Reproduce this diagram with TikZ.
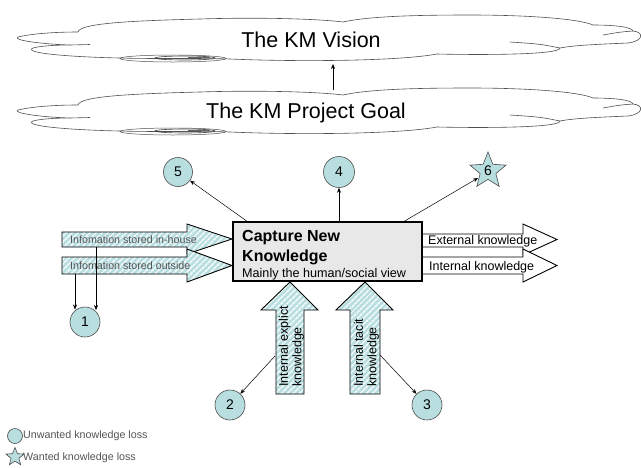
\documentclass[tikz,border=0pt]{standalone}
\usepackage{fontspec}
\setmainfont{Liberation Sans}
\usetikzlibrary{shapes.geometric,arrows.meta,patterns.meta}
\definecolor{kmblue}{RGB}{184,222,224}
\definecolor{kmgray}{RGB}{85,85,85}
\definecolor{cloudline}{RGB}{80,80,80}
\definecolor{boxgray}{RGB}{232,232,232}
\tikzset{
  pics/kmcloud/.style={code={
    \draw[cloudline, line width=0.6pt, fill=white]
      (18,-37) .. controls (35,-33) and (60,-32) .. (78,-32)
      .. controls (80,-24) and (120,-21) .. (200,-19)
      .. controls (260,-17) and (320,-19) .. (343,-22)
      .. controls (370,-16) and (420,-15) .. (470,-15)
      .. controls (530,-15) and (580,-19) .. (593,-25)
      .. controls (615,-25) and (632,-27) .. (633,-31)
      .. controls (644,-32) and (644,-41) .. (628,-43)
      .. controls (605,-44) and (575,-45) .. (560,-48)
      .. controls (560,-55) and (480,-55) .. (437,-54)
      .. controls (400,-61) and (300,-62) .. (230,-59)
      .. controls (200,-58) and (150,-59) .. (120,-58)
      .. controls (70,-57) and (22,-53) .. (33,-48)
      .. controls (40,-46) and (55,-45) .. (70,-45)
      .. controls (40,-44) and (12,-40) .. cycle;
    \draw[cloudline, line width=0.6pt] (70,-45) -- (90,-44.5);
    \draw[cloudline, line width=0.6pt] (560,-48) .. controls (540,-44) .. (510,-42);
    \draw[cloudline, line width=0.6pt] (633,-31) .. controls (620,-32) .. (603,-35);
    \draw[cloudline, line width=0.5pt] (173,-58.5) ellipse [x radius=53pt, y radius=3.5pt];
    \draw[black!75, line width=0.6pt] (185,-58) ellipse [x radius=30pt, y radius=2pt];
    \draw[black!60, line width=0.8pt] (188,-57.5) -- (210,-57.5);
  }},
  hatched/.style={draw=black, line width=0.9pt,
    preaction={fill=kmblue},
    preaction={pattern={Lines[angle=45,distance=4pt,line width=1.6pt]}, pattern color=white}},
  whitearrow/.style={draw=black, line width=0.9pt, fill=white},
  lossc/.style={circle, draw=black!70, line width=0.6pt, fill=kmblue, inner sep=0pt,
    minimum size=30pt, font=\fontsize{14}{16}\selectfont},
  lossstar/.style={star, star points=5, star point ratio=2.3, draw=black!70, line width=0.6pt,
    fill=kmblue, inner sep=0pt, minimum size=38pt, font=\fontsize{14}{16}\selectfont},
  conn/.style={-{Stealth[length=5pt,width=4pt]}, line width=0.5pt},
  cloudtext/.style={font=\fontsize{21.5}{26}\selectfont, inner sep=0pt},
  smallgray/.style={font=\fontsize{10.7}{12}\selectfont, text=kmgray, inner sep=0pt},
  arrowtext/.style={font=\fontsize{12.5}{13.5}\selectfont, inner sep=0pt},
}
\begin{document}
\begin{tikzpicture}[x=1pt,y=1pt]
\useasboundingbox[fill=white] (0,0) rectangle (641,-467);

% clouds
\pic at (0,0) {kmcloud};
\pic at (0,-73) {kmcloud};
\node[cloudtext] (vision) at (311,-40) {The KM Vision};
\node[cloudtext] (goal) at (306,-113) {The KM Project Goal};
\coordinate (gtop) at (333,-90);
\coordinate (vbot) at (333,-64);
\draw[conn] (gtop) -- (vbot);

% left hatched arrows
\draw[hatched] (62,-232) -- (187,-232) -- (187,-224) -- (232,-239) -- (187,-254) -- (187,-247) -- (62,-247) -- cycle;
\draw[hatched] (62,-257) -- (187,-257) -- (187,-249) -- (232,-265.5) -- (187,-282) -- (187,-274) -- (62,-274) -- cycle;
\node[smallgray, anchor=base west] (inhouse) at (70,-243.3) {Infomation stored in-house};
\node[smallgray, anchor=base west] (outside) at (70,-269.3) {Infomation stored outside};

% right white arrows
\draw[whitearrow] (422,-234) -- (523,-234) -- (523,-224) -- (557,-239.5) -- (523,-255) -- (523,-247) -- (422,-247) -- cycle;
\draw[whitearrow] (422,-257) -- (523,-257) -- (523,-249) -- (557,-265.5) -- (523,-282) -- (523,-274) -- (422,-274) -- cycle;
\node[arrowtext, anchor=base west] (ext) at (428,-244.5) {External knowledge};
\node[arrowtext, anchor=base west] (int) at (429,-270.5) {Internal knowledge};

% bottom hatched up arrows
\draw[hatched] (276,-394) -- (276,-310) -- (261,-310) -- (290,-282) -- (318,-310) -- (304,-310) -- (304,-394) -- cycle;
\draw[hatched] (350,-394) -- (350,-310) -- (336,-310) -- (365,-282) -- (393,-310) -- (380,-310) -- (380,-394) -- cycle;
\node[arrowtext, rotate=90, anchor=west, align=left] (explicit) at (291.5,-387) {Internal explict\\knowledge};
\node[arrowtext, rotate=90, anchor=west, align=left] (tacit) at (366.5,-387) {Internal tacit\\knowledge};

% main box
\node[draw=black, line width=1.4pt, fill=boxgray, minimum width=189pt, minimum height=59pt, inner sep=0pt] (box) at (327.5,-251.5) {};
\node[font=\fontsize{16}{18}\selectfont\bfseries, anchor=base west, inner sep=0pt] (cap1) at (242,-241) {Capture New};
\node[font=\fontsize{16}{18}\selectfont\bfseries, anchor=base west, inner sep=0pt] (cap2) at (242,-261) {Knowledge};
\node[font=\fontsize{12.6}{14}\selectfont, anchor=base west, inner sep=0pt] (cap3) at (242,-277) {Mainly the human/social view};

% loss markers
\node[lossc, minimum size=29pt] (c5) at (178,-172) {5};
\node[lossc, minimum size=31pt] (c4) at (339,-172) {4};
\node[lossstar] (s6) at (488,-171) {6};
\node[lossc] (c1) at (85,-322) {1};
\node[lossc] (c2) at (230,-405) {2};
\node[lossc] (c3) at (427,-405) {3};

% connectors
\coordinate (o5) at (248,-222);
\draw[conn] (o5) -- (c5);
\coordinate (o4) at (339,-222);
\draw[conn] (o4) -- (c4);
\coordinate (o6) at (403,-222);
\coordinate (e6) at (478,-178);
\draw[conn] (o6) -- (e6);
\coordinate (o2) at (275,-356);
\draw[conn] (o2) -- (c2);
\coordinate (o3) at (380,-355);
\draw[conn] (o3) -- (c3);
\coordinate (o1a) at (75,-274);
\coordinate (e1a) at (75,-309.5);
\draw[conn] (o1a) -- (e1a);
\coordinate (o1b) at (96,-247);
\coordinate (e1b) at (96,-310);
\draw[conn] (o1b) -- (e1b);

% legend
\node[lossc, minimum size=15pt] (legc) at (15,-436) {};
\node[lossstar, minimum size=19pt] (legs) at (15,-457) {};
\node[smallgray, anchor=west] (legct) at (23,-436) {Unwanted knowledge loss};
\node[smallgray, anchor=west] (legst) at (23,-458) {Wanted knowledge loss};
\end{tikzpicture}
\end{document}
